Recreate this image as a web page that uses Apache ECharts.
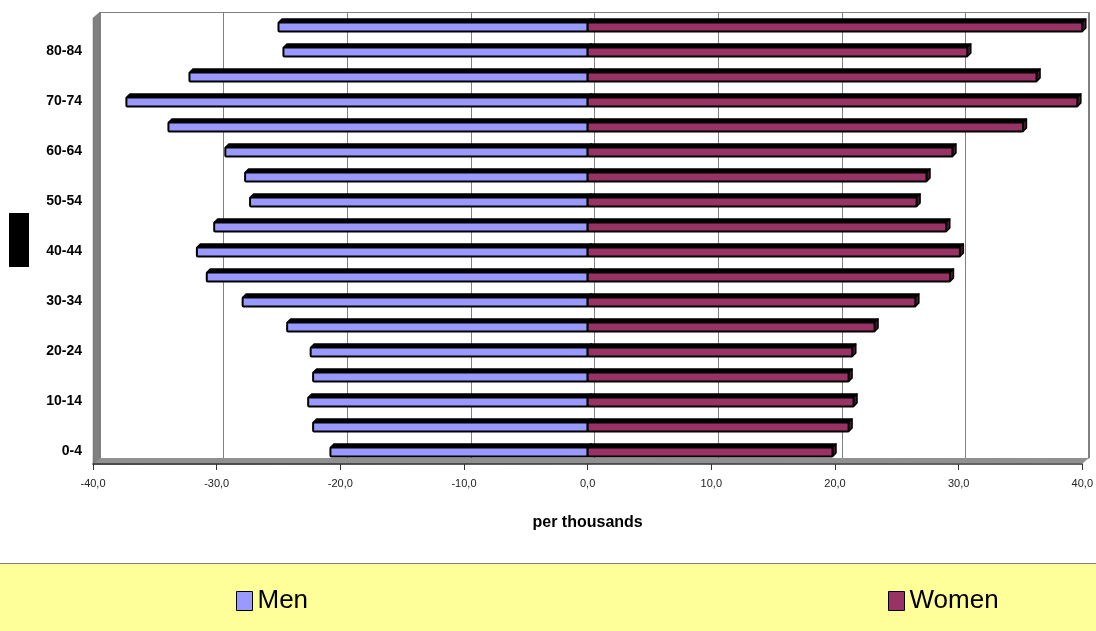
<!DOCTYPE html>
<html>
<head>
<meta charset="utf-8">
<script src="https://cdn.jsdelivr.net/npm/echarts@6/dist/echarts.min.js"></script>
<style>
html,body{margin:0;padding:0;background:#fff;}
#chart{width:1096px;height:631px;}
</style>
</head>
<body>
<div id="chart"></div>
<script>
var ageGroups = ['0-4','5-9','10-14','15-19','20-24','25-29','30-34','35-39','40-44','45-49','50-54','55-59','60-64','65-69','70-74','75-79','80-84','85+'];
var menValues = [-20.8,-22.2,-22.6,-22.2,-22.4,-24.3,-27.9,-30.8,-31.6,-30.2,-27.3,-27.7,-29.3,-33.9,-37.3,-32.2,-24.6,-25.0];
var womenValues = [19.8,21.1,21.5,21.1,21.4,23.2,26.5,29.3,30.1,29.0,26.6,27.4,29.5,35.2,39.6,36.3,30.7,40.0];
var xTicks = {min:-40, max:40, interval:10};
var seriesNames = ['Men','Women'];
var axisTitle = 'per thousands';

var fmt = function(v){ return v.toFixed(1).replace('.', ','); };
function toPairs(vals){ return vals.map(function(v, i){ return [v, i]; }); }

function makeRender(sideColor){
  return function(params, api){
    var v = api.value(0), i = api.value(1);
    var p0 = api.coord([0, i]), p1 = api.coord([v, i]);
    var yc = p0[1] + 0.5;
    var h = 9, d = 3.5;
    var xl = Math.min(p0[0], p1[0]), xr = Math.max(p0[0], p1[0]);
    var top = yc - h / 2;
    var fill = api.visual('color');
    return {type:'group', children:[
      {type:'polygon', shape:{points:[[xl,top],[xl+d,top-d],[xr+d,top-d],[xr,top]]},
       style:{fill:'#000', stroke:'#000', lineWidth:1.5, lineJoin:'round'}},
      {type:'polygon', shape:{points:[[xr,top],[xr+d,top-d],[xr+d,top+h-d],[xr,top+h]]},
       style:{fill:sideColor, stroke:'#000', lineWidth:1.5, lineJoin:'round'}},
      {type:'rect', shape:{x:xl, y:top, width:xr-xl, height:h, r:1},
       style:{fill:fill, stroke:'#000', lineWidth:2}}
    ]};
  };
}

var chart = echarts.init(document.getElementById('chart'), null, {renderer:'canvas'});
chart.setOption({
  animation:false,
  backgroundColor:'#ffffff',
  graphic:[
    {type:'rect', z:-10, shape:{x:0,y:563,width:1096,height:68}, style:{fill:'#FFFF99'}},
    {type:'line', z:-9, shape:{x1:0,y1:563.5,x2:1096,y2:563.5}, style:{stroke:'#808080',lineWidth:1}},
    {type:'rect', z:-8, shape:{x:100.5,y:12.5,width:988,height:446}, style:{fill:'none',stroke:'#808080',lineWidth:1}},
    {type:'polygon', z:-7, shape:{points:[[93,18],[100,12],[100,459],[93,465]]}, style:{fill:'#808080',stroke:'#6a6a6a',lineWidth:0.5}},
    {type:'polygon', z:-7, shape:{points:[[93,465],[100,458],[1089,458],[1083,463]]}, style:{fill:'#909090'}},
    {type:'rect', z:5, shape:{x:9,y:213,width:20,height:54}, style:{fill:'#000000'}}
  ],
  legend:[
    {data:[seriesNames[0]], left:231, top:583, itemWidth:16, itemHeight:19, itemGap:6, icon:'rect',
     textStyle:{fontFamily:'Liberation Sans, Arial, sans-serif', fontSize:26, color:'#000'},
     itemStyle:{color:'#9999FF', borderColor:'#000', borderWidth:1}},
    {data:[seriesNames[1]], left:883, top:583, itemWidth:16, itemHeight:19, itemGap:6, icon:'rect',
     textStyle:{fontFamily:'Liberation Sans, Arial, sans-serif', fontSize:26, color:'#000'},
     itemStyle:{color:'#993366', borderColor:'#000', borderWidth:1}}
  ],
  grid:[
    {left:100, right:7, top:12, bottom:173, containLabel:false},
    {left:93, right:13, top:14, bottom:167, containLabel:false}
  ],
  xAxis:[
    {gridIndex:0, type:'value', min:xTicks.min, max:xTicks.max, interval:xTicks.interval,
     axisLine:{show:false}, axisTick:{show:false}, axisLabel:{show:false},
     splitLine:{show:true, lineStyle:{color:'#808080', width:1}}},
    {gridIndex:1, type:'value', min:xTicks.min, max:xTicks.max, interval:xTicks.interval,
     axisLine:{show:true, onZero:false, lineStyle:{color:'#333', width:1.5}},
     axisTick:{show:true, length:6, lineStyle:{color:'#333'}},
     axisLabel:{formatter:fmt, margin:14, fontFamily:'Liberation Sans, Arial, sans-serif', fontSize:11, color:'#222'},
     splitLine:{show:false},
     name:axisTitle, nameLocation:'middle', nameGap:51,
     nameTextStyle:{fontFamily:'Liberation Sans, Arial, sans-serif', fontSize:16, fontWeight:'bold', color:'#000'}}
  ],
  yAxis:[
    {gridIndex:0, type:'category', data:ageGroups, show:false},
    {gridIndex:1, type:'category', data:ageGroups,
     axisLine:{show:false}, axisTick:{show:false},
     axisLabel:{interval:1, margin:11, fontFamily:'Liberation Sans, Arial, sans-serif', fontSize:14, fontWeight:'bold', color:'#000'},
     splitLine:{show:false}}
  ],
  series:[
    {name:seriesNames[0], type:'custom', xAxisIndex:1, yAxisIndex:1, data:toPairs(menValues),
     encode:{x:0, y:1}, itemStyle:{color:'#9999FF'}, renderItem:makeRender('#4c4c80')},
    {name:seriesNames[1], type:'custom', xAxisIndex:1, yAxisIndex:1, data:toPairs(womenValues),
     encode:{x:0, y:1}, itemStyle:{color:'#993366'}, renderItem:makeRender('#4c1933')}
  ]
});
</script>
</body>
</html>
